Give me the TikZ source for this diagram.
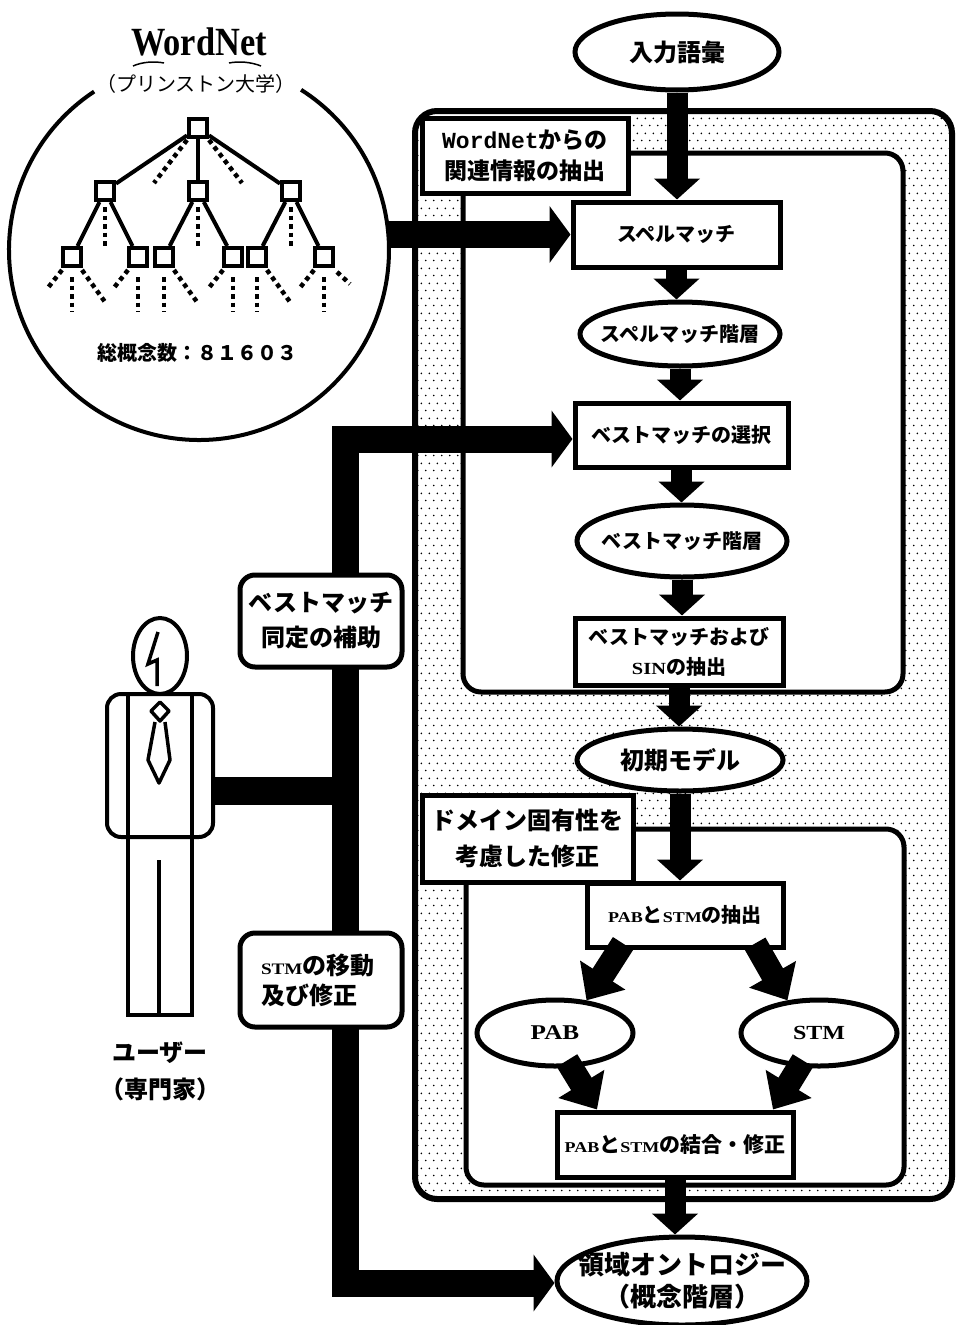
\documentclass[tikz,border=0pt]{standalone}
\usepackage{fontspec}
\usetikzlibrary{arrows.meta,shapes.geometric,calc,patterns.meta}
\setmainfont{Noto Sans CJK JP}
\newfontfamily\latinserif{Liberation Serif}
\newfontfamily\wideserif{Liberation Serif}[FakeStretch=1.2]
\newfontfamily\titleserif{Liberation Serif}[FakeStretch=0.86]
\newfontfamily\monofam{Liberation Mono}
% wide bold serif Latin words inside Japanese text: size, word
\newcommand{\lsb}[2]{{\fontsize{#1}{#1}\wideserif\bfseries #2}}

% light stipple used in the outer processing frame
\tikzdeclarepattern{
  name=stipple,
  type=uncolored,
  bottom left={(0pt,0pt)},
  top right={(8pt,14.6pt)},
  tile size={(8pt,14.6pt)},
  code={
    \fill (2pt,3.6pt) circle[radius=1pt];
    \fill (6pt,10.9pt) circle[radius=1pt];
  }
}

\tikzset{
  f20/.style={font=\fontsize{20}{30}\selectfont\bfseries},
  f21/.style={font=\fontsize{21}{30}\selectfont\bfseries},
  f24/.style={font=\fontsize{24}{33}\selectfont\bfseries},
  flowbox/.style={draw, line width=5pt, fill=white, rectangle, inner sep=0pt, align=center},
  flowoval/.style={draw, line width=5pt, fill=white, ellipse, inner sep=0pt},
  tagbox/.style={draw, line width=5pt, fill=white, rectangle, inner sep=0pt, align=center},
  notebox/.style={draw, line width=5pt, fill=white, rounded corners=15pt, inner sep=0pt},
  downarrow/.style={line width=21pt, -{Triangle[width=45pt,length=21pt]}},
  bigarrow/.style={line width=27pt, line join=miter, -{Triangle[width=56pt,length=21pt]}},
  slantarrow/.style={line width=24pt, -{Triangle[width=52pt,length=30pt]}},
  treebox/.style={draw, line width=4pt, fill=white, minimum size=18pt, inner sep=0pt},
  treeline/.style={line width=4pt},
  treedots/.style={line width=4.5pt, dash pattern=on 4.5pt off 4pt},
  figline/.style={line width=4pt},
}

\begin{document}
\begin{tikzpicture}[x=1pt,y=-1pt]
\useasboundingbox (0,0) rectangle (959,1325);

% ---------------- WordNet panel ----------------
\node[font={\fontsize{40}{40}\titleserif\bfseries}] (wntitle) at (199,42) {WordNet};
\node[font=\fontsize{20}{20}\selectfont] (wnsub) at (196,84) {（プリンストン大学）};
\draw[line width=1.5pt] (133,66) .. controls (142,62) and (154,61) .. (164,63);
\draw[line width=1.5pt] (229,63) .. controls (239,61) and (251,62) .. (261,66);

\node[circle, minimum size=380pt, inner sep=0pt] (wn) at (199,250) {};
\draw[line width=4pt] (wn.center) ++(123.5:190pt) arc[start angle=123.5, end angle=417.5, radius=190pt];

% tree of synsets
\node[treebox] (r)  at (198,128) {};
\node[treebox] (a1) at (105,191) {};
\node[treebox] (a2) at (198,191) {};
\node[treebox] (a3) at (291,191) {};
\node[treebox] (b1) at (72,257) {};
\node[treebox] (b2) at (138,257) {};
\node[treebox] (b3) at (164,257) {};
\node[treebox] (b4) at (233,257) {};
\node[treebox] (b5) at (257,257) {};
\node[treebox] (b6) at (324,257) {};
\draw[treeline] (r) -- (a1);
\draw[treeline] (r) -- (a2);
\draw[treeline] (r) -- (a3);
\draw[treeline] (a1) -- (b1);
\draw[treeline] (a1) -- (b2);
\draw[treeline] (a2) -- (b3);
\draw[treeline] (a2) -- (b4);
\draw[treeline] (a3) -- (b5);
\draw[treeline] (a3) -- (b6);
\draw[treedots] ($(r.center)+(-11,12)$) -- ++(-33,43);
\draw[treedots] ($(r.center)+(11,12)$) -- ++(33,43);
\foreach \n in {a1,a2,a3}{
  \draw[treedots] ($(\n.center)+(0,16)$) -- ++(0,41);
}
\foreach \n in {b1,b2,b4,b6}{
  \draw[treedots] ($(\n.center)+(-10,13)$) -- ++(-15,19);
}
\foreach \n in {b1,b2,b3,b4,b5,b6}{
  \draw[treedots] ($(\n.center)+(0,20)$) -- ++(0,35);
}
\foreach \n in {b1,b3,b5}{
  \draw[treedots] ($(\n.center)+(10,13)$) -- ++(23,32);
}
\draw[treedots] ($(b6.center)+(13,15)$) -- ++(13,12);

\node[font=\fontsize{20}{20}\selectfont\bfseries] (count) at (197,353) {総概念数：８１６０３};

% ---------------- processing frames ----------------
\draw[line width=6pt, rounded corners=22pt, pattern=stipple, pattern color=black] (415,111) rectangle (952,1199);
\draw[line width=5pt, rounded corners=18pt, fill=white] (463,153) rectangle (903,692);
\draw[line width=5pt, rounded corners=18pt, fill=white] (466,829) rectangle (904,1185);

\node[tagbox, minimum width=206pt, minimum height=75pt, font=\fontsize{23}{31}\selectfont\bfseries] (lab1) at (525,155.5)
  {{\monofam\bfseries WordNet}からの\\関連情報の抽出};
\node[tagbox, minimum width=211pt, minimum height=87pt, font=\fontsize{24}{36}\selectfont\bfseries] (lab2) at (527.5,838.5)
  {ドメイン固有性を\\考慮した修正};

% ---------------- flow nodes ----------------
\node[flowoval, minimum width=204pt, minimum height=76pt,
  label={[font=\fontsize{24}{24}\selectfont\bfseries]center:入力語彙}] (inp) at (677,52) {};
\node[flowbox, f20, minimum width=207pt, minimum height=65pt] (spell) at (676.5,234.5) {スペルマッチ};
\node[flowoval, minimum width=200pt, minimum height=64pt,
  label={[f20]center:スペルマッチ階層}] (spellh) at (680,334) {};
\node[flowbox, f20, minimum width=213pt, minimum height=64pt] (best) at (681.5,435) {ベストマッチの選択};
\node[flowoval, minimum width=210pt, minimum height=72pt,
  label={[f20]center:ベストマッチ階層}] (besth) at (682,541) {};
\node[flowbox, f20, minimum width=208pt, minimum height=67pt] (bsin) at (679,651.5)
  {ベストマッチおよび\\\lsb{17}{SIN}の抽出};
\node[flowoval, minimum width=206pt, minimum height=62pt,
  label={[font=\fontsize{24}{24}\selectfont\bfseries]center:初期モデル}] (init) at (680,760) {};
\node[flowbox, f20, minimum width=196pt, minimum height=64pt] (pabstm) at (685,915)
  {\lsb{15}{PAB}と\lsb{15}{STM}の抽出};
\node[flowoval, minimum width=156pt, minimum height=66pt,
  label={[font=\fontsize{21}{21}\wideserif\bfseries]center:PAB}] (pab) at (555,1033) {};
\node[flowoval, minimum width=156pt, minimum height=66pt,
  label={[font=\fontsize{20}{20}\wideserif\bfseries]center:STM}] (stm) at (819,1033) {};
\node[flowbox, f21, minimum width=236pt, minimum height=65pt] (comb) at (675,1144.5)
  {\lsb{15}{PAB}と\lsb{15}{STM}の結合・修正};
\node[flowoval, minimum width=250pt, minimum height=88pt,
  label={[font=\fontsize{26}{32}\selectfont\bfseries, align=center]center:領域オントロジー\\（概念階層）}] (onto) at (682,1281) {};

% ---------------- flow arrows ----------------
\draw[downarrow] (inp.south) -- (inp.south |- spell.north);
\draw[downarrow] (spell.south) -- (spell.south |- spellh.north);
\draw[downarrow] (spellh.south) -- (spellh.south |- best.north);
\draw[downarrow] (best.south) -- (best.south |- besth.north);
\draw[downarrow] (besth.south) -- (besth.south |- bsin.north);
\draw[downarrow] (bsin.south) -- (bsin.south |- init.north);
\draw[downarrow] (init.south) -- (init.south |- pabstm.north);
\draw[downarrow] (comb.south) -- (comb.south |- onto.north);
\draw[slantarrow] ($(pabstm.south)+(-62,-6)$) -- (pab.46);
\draw[slantarrow] ($(pabstm.south)+(70,-6)$) -- (stm.134);
\draw[slantarrow] ($(pab.south)+(12,-8)$) -- ($(comb.north)+(-78,0)$);
\draw[slantarrow] ($(stm.south)+(-16,-8)$) -- ($(comb.north)+(98,0)$);

\draw[bigarrow] (wn.east |- spell.west) -- (spell.west);

% ---------------- user ----------------
\node[draw, figline, ellipse, minimum width=54pt, minimum height=76pt, inner sep=0pt] (head) at (160,656) {};
\draw[line width=3.5pt] (158,632) -- (148,664) -- (157,660) -- (157,686);
\node[draw, figline, rounded corners=14pt, minimum width=106pt, minimum height=143pt, inner sep=0pt] (body) at (160,765.5) {};
\draw[figline] (128,694) -- (128,1015) -- (192,1015) -- (192,694);
\draw[figline] (159,860) -- (159,1015);
\draw[line width=3.5pt, line join=round] (160,702) -- (151,711) -- (160,721) -- (169,711) -- cycle;
\draw[line width=3.5pt, line join=round] (155,722) -- (148,760) -- (159,783) -- (170,760) -- (165,722);
\node[align=center, font=\fontsize{24}{37}\selectfont\bfseries] (usr) at (160,1071) {ユーザー\\（専門家）};

% user interaction bus
\coordinate (jt) at (345,439);
\coordinate (jm) at (345,791);
\coordinate (jb) at (345,1283);
\draw[line width=28pt] (jm -| body.east) -- (jm);
\draw[bigarrow] (jb) -- (jt) -- (best.west |- jt);
\draw[bigarrow] (jt) -- (jb) -- (jb -| onto.west);

\node[notebox, minimum width=162pt, minimum height=92pt, align=center, font=\fontsize{24}{35}\selectfont\bfseries] (note1) at (321,621)
  {ベストマッチ\\同定の補助};
\node[notebox, minimum width=162pt, minimum height=94pt, text width=120pt, inner xsep=21pt, align=left, font=\fontsize{24}{30}\selectfont\bfseries] (note2) at (321,980)
  {\lsb{16}{STM}の移動\\及び修正};

\end{tikzpicture}
\end{document}
